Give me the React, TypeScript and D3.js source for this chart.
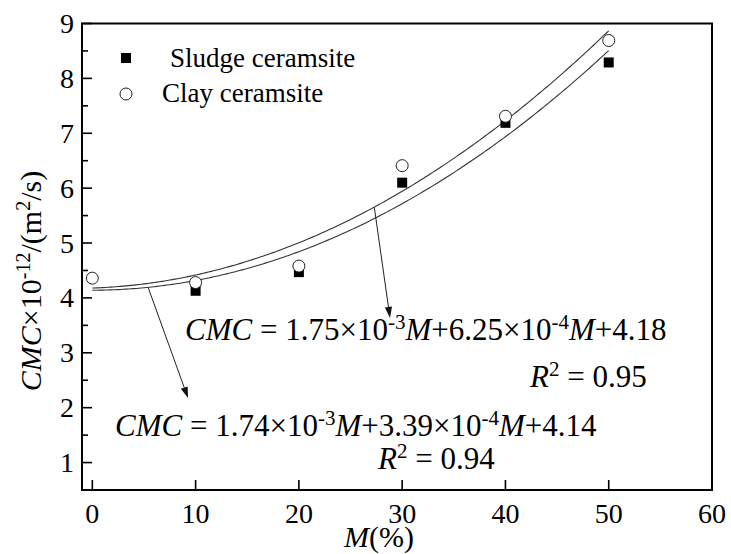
import React from "react";
import * as d3 from "d3";

// Measured chloride migration coefficient vs. sludge content M (%)
const sludgeM = [10, 20, 30, 40, 50];
const sludgeCMC = [4.13, 4.47, 6.1, 7.19, 8.29];
const clayM = [0, 10, 20, 30, 40, 50];
const clayCMC = [4.36, 4.28, 4.58, 6.41, 7.31, 8.69];

// Quadratic fit coefficients [a, b, c] for CMC = a·M² + b·M + c
const fitUpper = [1.75e-3, 6.25e-3, 4.18];
const fitLower = [1.74e-3, 3.39e-4, 4.14];

const xTicks = [0, 10, 20, 30, 40, 50, 60];
const yTicks = [1, 2, 3, 4, 5, 6, 7, 8, 9];
const yMinorTicks = [1.5, 2.5, 3.5, 4.5, 5.5, 6.5, 7.5, 8.5];

const W = 731;
const H = 554;
const left = 82;
const right = 712;
const top = 23.5;
const bottom = 490;

const FONT = "'Liberation Serif', 'Times New Roman', serif";

const x = d3.scaleLinear().domain([-1, 60]).range([left, right]);
const y = d3.scaleLinear().domain([0.5, 9]).range([bottom, top]);

const quad = (c: number[]) => (m: number) => c[0] * m * m + c[1] * m + c[2];
const fitSamples = d3.range(0, 50.25, 0.25);

function curvePath(c: number[]) {
  const f = quad(c);
  return d3
    .line<number>()
    .x((m) => x(m))
    .y((m) => y(f(m)))(fitSamples) as string;
}

function Arrow({ x1, y1, x2, y2 }: { x1: number; y1: number; x2: number; y2: number }) {
  const ang = Math.atan2(y2 - y1, x2 - x1);
  const len = 11;
  const hw = 3.6;
  const bx = x2 - len * Math.cos(ang);
  const by = y2 - len * Math.sin(ang);
  const px = -Math.sin(ang) * hw;
  const py = Math.cos(ang) * hw;
  return (
    <g>
      <line x1={x1} y1={y1} x2={bx} y2={by} stroke="#222" strokeWidth={1} />
      <polygon
        points={`${x2},${y2} ${bx + px},${by + py} ${bx - px},${by - py}`}
        fill="#111"
      />
    </g>
  );
}

export default function App() {
  const fU = quad(fitUpper);
  const fL = quad(fitLower);
  const a1M = 27.3;
  const a2M = 5.4;
  const sup = 21;
  const rise = 11;

  return (
    <svg width={W} height={H} style={{ display: "block", position: "absolute", left: 0, top: 0 }} fontFamily={FONT}>
      <rect x={0} y={0} width={W} height={H} fill="#fff" />

      {/* fitted curves */}
      <path d={curvePath(fitUpper)} fill="none" stroke="#333" strokeWidth={1.1} />
      <path d={curvePath(fitLower)} fill="none" stroke="#333" strokeWidth={1.1} />

      {/* annotation arrows from the curves to their equations */}
      <Arrow x1={x(a1M)} y1={y(fU(a1M))} x2={390} y2={318} />
      <Arrow x1={x(a2M)} y1={y(fL(a2M))} x2={188} y2={398} />

      {/* data points */}
      {sludgeM.map((m, i) => (
        <rect key={"s" + i} x={x(m) - 5} y={y(sludgeCMC[i]) - 5} width={10} height={10} fill="#000" />
      ))}
      {clayM.map((m, i) => (
        <circle key={"c" + i} cx={x(m)} cy={y(clayCMC[i])} r={6} fill="#fff" stroke="#222" strokeWidth={1} />
      ))}

      {/* frame */}
      <rect x={left} y={top} width={right - left} height={bottom - top} fill="none" stroke="#000" strokeWidth={2} />

      {/* y ticks */}
      {yTicks.map((t) => (
        <g key={"yt" + t}>
          <line x1={left} x2={left + 10} y1={y(t)} y2={y(t)} stroke="#000" strokeWidth={1.6} />
          <text x={74} y={y(t) + 9.5} fontSize={28} textAnchor="end">
            {t}
          </text>
        </g>
      ))}
      {yMinorTicks.map((t) => (
        <line key={"ym" + t} x1={left} x2={left + 6} y1={y(t)} y2={y(t)} stroke="#000" strokeWidth={1.6} />
      ))}

      {/* x ticks */}
      {xTicks.map((t) => (
        <g key={"xt" + t}>
          {t < 60 && <line x1={x(t)} x2={x(t)} y1={bottom} y2={bottom - 10} stroke="#000" strokeWidth={1.6} />}
          <text x={x(t)} y={523} fontSize={28} textAnchor="middle">
            {t}
          </text>
        </g>
      ))}

      {/* axis titles */}
      <text x={379} y={547} fontSize={30} textAnchor="middle">
        <tspan fontStyle="italic">M</tspan>
        <tspan>(%)</tspan>
      </text>
      <text transform="translate(41,281) rotate(-90)" fontSize={30} textAnchor="middle" style={{ whiteSpace: "pre" }}>
        <tspan fontStyle="italic">CMC</tspan>
        <tspan>×10</tspan>
        <tspan fontSize={20} dy={-11}>-12</tspan>
        <tspan dy={11}>/(m</tspan>
        <tspan fontSize={20} dy={-11}>2</tspan>
        <tspan dy={11}>/s)</tspan>
      </text>

      {/* legend */}
      <rect x={121} y={53} width={10} height={10} fill="#000" />
      <text x={170} y={67} fontSize={27}>Sludge ceramsite</text>
      <circle cx={126} cy={94} r={6} fill="#fff" stroke="#222" strokeWidth={1} />
      <text x={162} y={102} fontSize={27}>Clay ceramsite</text>

      {/* fit equations */}
      <text x={185} y={340} fontSize={31} style={{ whiteSpace: "pre" }}>
        <tspan fontStyle="italic">CMC</tspan>
        <tspan> = 1.75×10</tspan>
        <tspan fontSize={sup} dy={-rise}>-3</tspan>
        <tspan fontStyle="italic" dy={rise}>M</tspan>
        <tspan>+6.25×10</tspan>
        <tspan fontSize={sup} dy={-rise}>-4</tspan>
        <tspan fontStyle="italic" dy={rise}>M</tspan>
        <tspan>+4.18</tspan>
      </text>
      <text x={530} y={387} fontSize={31} style={{ whiteSpace: "pre" }}>
        <tspan fontStyle="italic">R</tspan>
        <tspan fontSize={sup} dy={-rise}>2</tspan>
        <tspan dy={rise}> = 0.95</tspan>
      </text>

      <text x={115} y={436} fontSize={31} style={{ whiteSpace: "pre" }}>
        <tspan fontStyle="italic">CMC</tspan>
        <tspan> = 1.74×10</tspan>
        <tspan fontSize={sup} dy={-rise}>-3</tspan>
        <tspan fontStyle="italic" dy={rise}>M</tspan>
        <tspan>+3.39×10</tspan>
        <tspan fontSize={sup} dy={-rise}>-4</tspan>
        <tspan fontStyle="italic" dy={rise}>M</tspan>
        <tspan>+4.14</tspan>
      </text>
      <text x={378} y={469} fontSize={31} style={{ whiteSpace: "pre" }}>
        <tspan fontStyle="italic">R</tspan>
        <tspan fontSize={sup} dy={-rise}>2</tspan>
        <tspan dy={rise}> = 0.94</tspan>
      </text>
    </svg>
  );
}
